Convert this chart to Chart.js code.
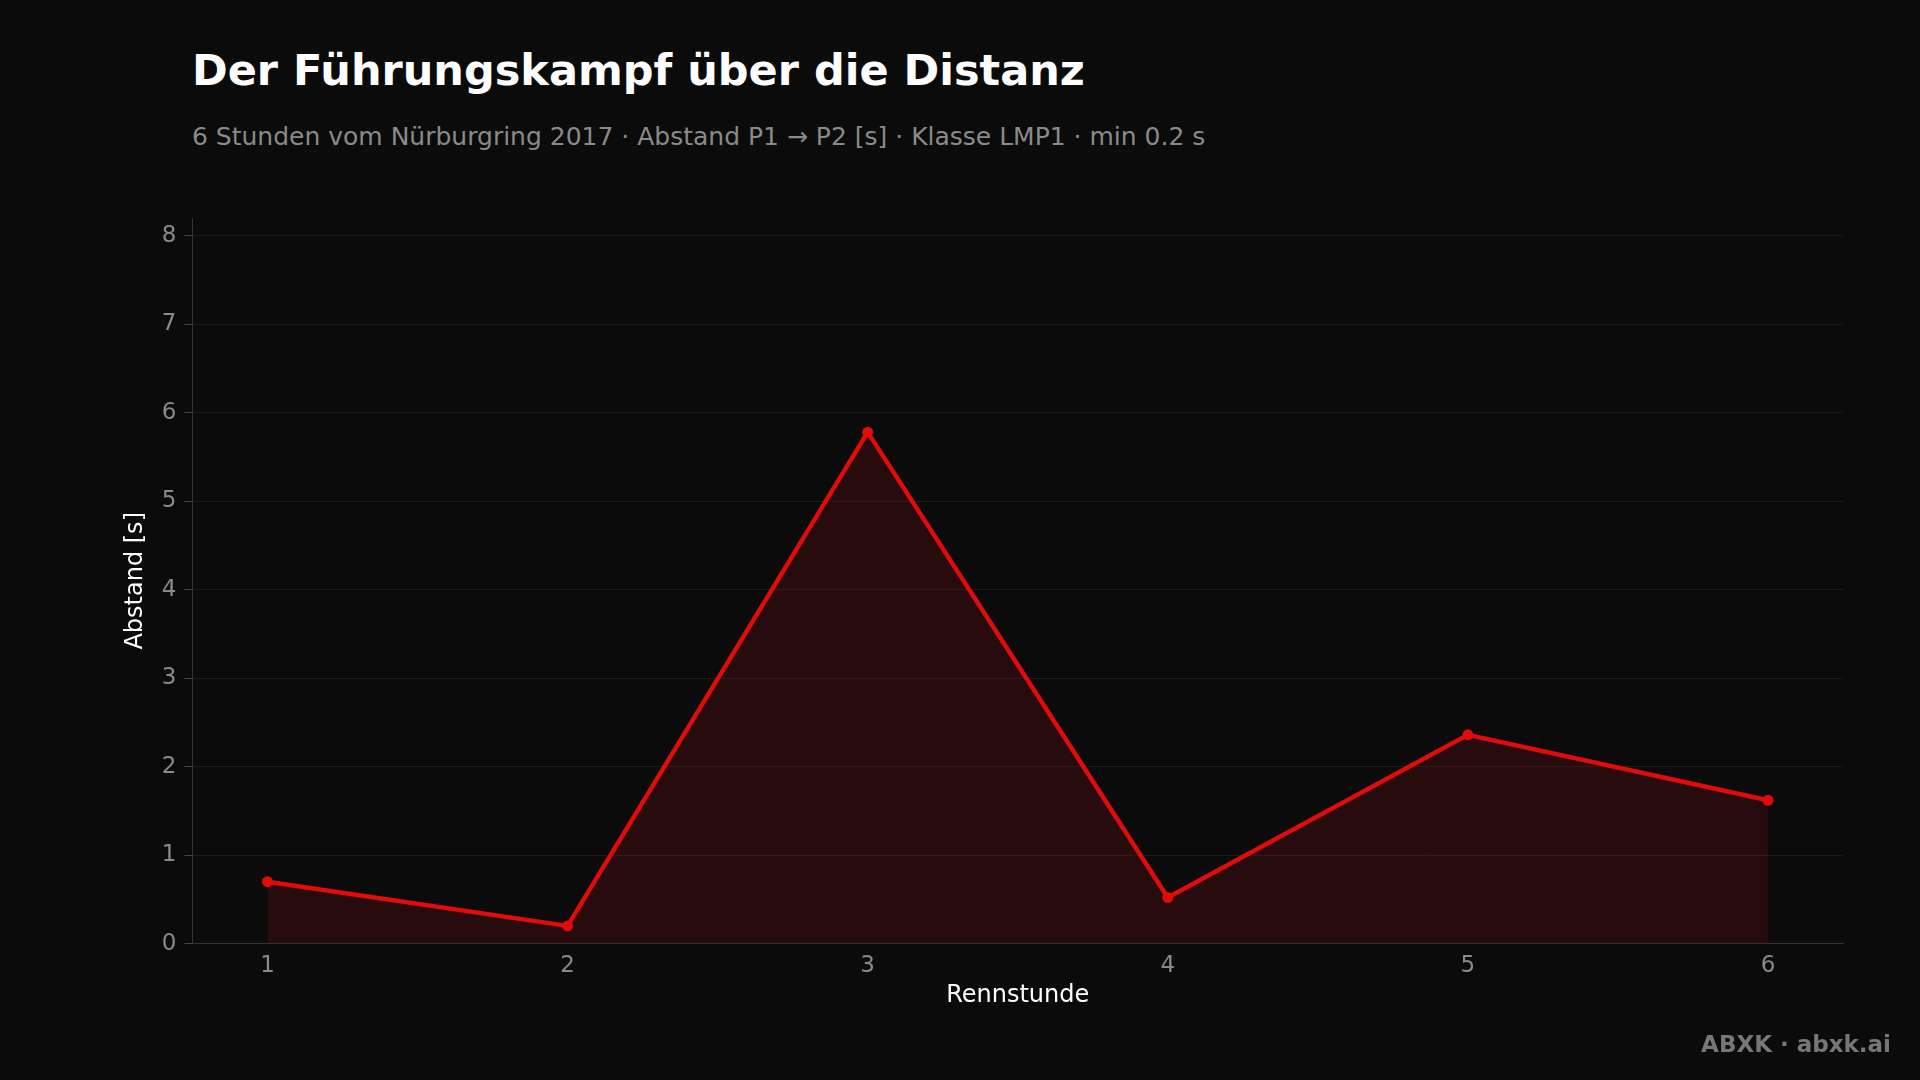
<!DOCTYPE html>
<html>
<head>
<meta charset="utf-8">
<script src="https://cdn.jsdelivr.net/npm/chart.js@4.4.0/dist/chart.umd.min.js"></script>
<style>
  html, body { margin: 0; padding: 0; background: #0b0b0b; width: 1920px; height: 1080px; overflow: hidden; font-family: "DejaVu Sans", sans-serif; }
  #title { position: absolute; left: 192px; top: 45px; color: #fff; font-weight: bold; font-size: 43px; }
  #subtitle { position: absolute; left: 192px; top: 122px; color: #8a8a8a; font-size: 25px; }
  #footer { position: absolute; right: 29px; top: 1031px; color: #777; font-weight: bold; font-size: 23px; }
  #wrap { position: absolute; left: 0; top: 0; width: 1920px; height: 1080px; }
</style>
</head>
<body>
<div id="title">Der Führungskampf über die Distanz</div>
<div id="subtitle">6 Stunden vom Nürburgring 2017 · Abstand P1 → P2 [s] · Klasse LMP1 · min 0.2 s</div>
<div id="wrap"><canvas id="myChart"></canvas></div>
<div id="footer">ABXK · abxk.ai</div>
<script>
// Daten
const hours = [1, 2, 3, 4, 5, 6];
const gaps = [0.7, 0.2, 5.78, 0.52, 2.36, 1.62];

const ctx = document.getElementById("myChart").getContext("2d");
new Chart(ctx, {
  type: "line",
  data: {
    datasets: [
      {
        label: "Abstand P1 → P2",
        data: hours.map((h, i) => ({ x: h, y: gaps[i] })),
        borderColor: "#e00b0b",
        backgroundColor: "rgba(190, 10, 20, 0.16)",
        borderWidth: 4.5,
        pointRadius: 5.5,
        pointBackgroundColor: "#e00b0b",
        pointBorderWidth: 0,
        fill: "origin",
        tension: 0,
      },
    ],
  },
  options: {
    responsive: true,
    maintainAspectRatio: false,
    animation: false,
    layout: { padding: { top: 218, right: 77, left: 117, bottom: 66 } },
    plugins: { legend: { display: false }, tooltip: { enabled: false } },
    scales: {
      x: {
        type: "linear",
        min: 0.75,
        max: 6.25,
        afterBuildTicks: (s) => { s.ticks = hours.map((v) => ({ value: v })); },
        grid: { display: false, drawTicks: true },
        border: { color: "#333" },
        ticks: { color: "#8a8a8a", font: { size: 23, family: "DejaVu Sans" }, padding: 1 },
        title: { display: true, text: "Rennstunde", color: "#fff", font: { size: 24, family: "DejaVu Sans" }, padding: { top: 0, bottom: 4 } },
      },
      y: {
        min: 0,
        max: 8.2,
        afterBuildTicks: (s) => { s.ticks = [0,1,2,3,4,5,6,7,8].map((v) => ({ value: v })); },
        grid: { color: "#1c1c1c", tickColor: "#444" },
        border: { color: "#333" },
        ticks: { color: "#8a8a8a", font: { size: 23, family: "DejaVu Sans" }, padding: 8 },
        title: { display: true, text: "Abstand [s]", color: "#fff", font: { size: 24, family: "DejaVu Sans" } },
      },
    },
  },
});
</script>
</body>
</html>
